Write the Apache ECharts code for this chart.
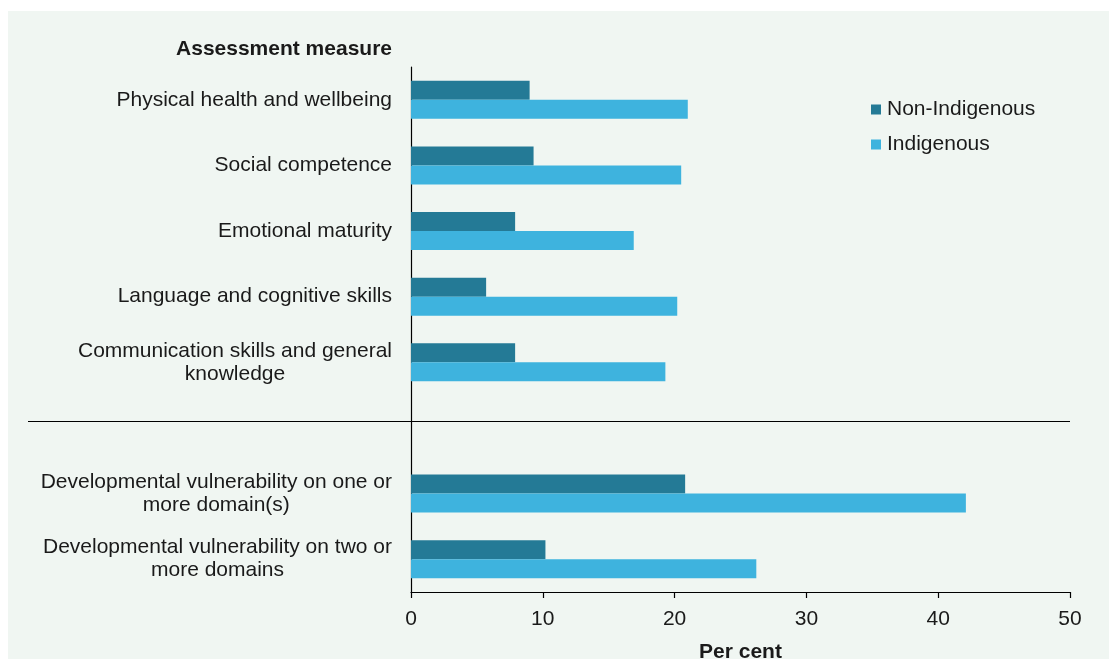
<!DOCTYPE html>
<html>
<head>
<meta charset="utf-8">
<script src="https://cdn.jsdelivr.net/npm/echarts@6/dist/echarts.min.js"></script>
<style>html,body{margin:0;padding:0;background:#fff}#c{width:1109px;height:659px}</style>
</head>
<body>
<div id="c"></div>
<script>
var categories = [
  'Physical health and wellbeing',
  'Social competence',
  'Emotional maturity',
  'Language and cognitive skills',
  'Communication skills and general\nknowledge',
  ' ',
  'Developmental vulnerability on one or\nmore domain(s)',
  'Developmental vulnerability on two or\nmore domains'
];
var nonIndigenous = [9.0, 9.3, 7.9, 5.7, 7.9, null, 20.8, 10.2];
var indigenous = [21.0, 20.5, 16.9, 20.2, 19.3, null, 42.1, 26.2];
var xTicks = [0, 10, 20, 30, 40, 50];
var seriesNames = ['Non-Indigenous', 'Indigenous'];

var FONT = '"Liberation Sans", Arial, sans-serif';
var TXT = '#1a1a1a';
var chart = echarts.init(document.getElementById('c'));
var option = {
  backgroundColor: '#ffffff',
  animation: false,
  textStyle: { fontFamily: FONT },
  title: {
    text: 'Assessment measure',
    right: 712, top: 34,
    textStyle: { fontFamily: FONT, fontSize: 21, fontWeight: 'bold', color: TXT }
  },
  legend: {
    orient: 'vertical',
    left: 866, top: 94,
    itemWidth: 10, itemHeight: 10, itemGap: 14,
    icon: 'rect',
    textStyle: { fontFamily: FONT, fontSize: 21, color: TXT, padding: [0, 0, 0, 1] },
    data: seriesNames
  },
  grid: { left: 411, right: 39, top: 67, bottom: 67, containLabel: false, outerBoundsMode: 'none' },
  xAxis: {
    type: 'value',
    min: xTicks[0], max: xTicks[xTicks.length - 1], interval: 10,
    name: 'Per cent', nameLocation: 'middle', nameGap: 50,
    nameTextStyle: { fontFamily: FONT, fontSize: 21, fontWeight: 'bold', color: TXT },
    axisLine: { show: true, lineStyle: { color: '#000', width: 1.2 } },
    axisTick: { show: true, length: 6, lineStyle: { color: '#000', width: 1.2 } },
    axisLabel: { fontFamily: FONT, fontSize: 21, color: TXT, margin: 17 },
    splitLine: { show: false }
  },
  yAxis: {
    type: 'category',
    inverse: true,
    data: categories,
    axisLine: { show: true, lineStyle: { color: '#000', width: 1.2 } },
    axisTick: { show: false },
    axisLabel: {
      margin: 19,
      fontFamily: FONT, fontSize: 21, color: TXT, lineHeight: 23,
      formatter: function (v) {
        return v.split('\n').map(function (l) { return '{c|' + l + '}'; }).join('\n');
      },
      rich: { c: { align: 'center', fontFamily: FONT, fontSize: 21, color: TXT, lineHeight: 23 } }
    }
  },
  series: [
    { name: seriesNames[0], type: 'bar', data: nonIndigenous, barWidth: 19, barGap: '0%',
      itemStyle: { color: '#247a96' } },
    { name: seriesNames[1], type: 'bar', data: indigenous, barWidth: 19, barGap: '0%',
      itemStyle: { color: '#3eb3de' } }
  ]
};
chart.setOption(option);

// panel background and divider line
var yMid = chart.convertToPixel({ yAxisIndex: 0 }, categories[5]);
var band = chart.convertToPixel({ yAxisIndex: 0 }, categories[6]) - yMid;
var xEnd = chart.convertToPixel({ xAxisIndex: 0 }, xTicks[xTicks.length - 1]);
var yLine = Math.round(yMid - band * 0.1) + 0.5;
chart.setOption({
  graphic: [
    { type: 'rect', z: -10, silent: true, shape: { x: 8, y: 11, width: 1101, height: 648 },
      style: { fill: '#f0f6f2' } },
    { type: 'line', z: 10, silent: true,
      shape: { x1: 28, y1: yLine, x2: xEnd, y2: yLine },
      style: { stroke: '#000', lineWidth: 1.2 } }
  ]
});
</script>
</body>
</html>
